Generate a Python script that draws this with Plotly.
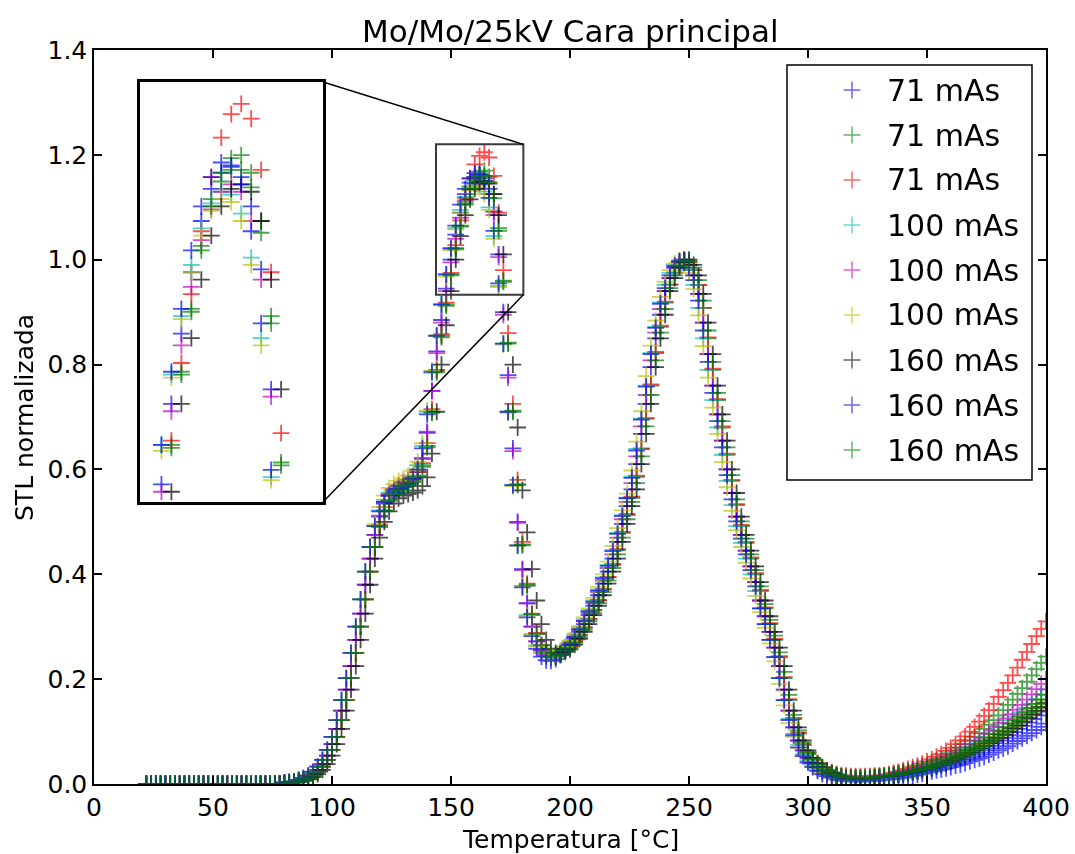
import plotly.graph_objects as go

# Reading temperatures (°C): one reading every 2 °C
TEMPERATURA = list(range(22, 401, 2))

LABELS = ["71 mAs", "71 mAs", "71 mAs",
          "100 mAs", "100 mAs", "100 mAs",
          "160 mAs", "160 mAs", "160 mAs"]
COLORS = ["#0000ff", "#008000", "#ff0000",
          "#00bfbf", "#bf00bf", "#bfbf00",
          "#000000", "#0000ff", "#008000"]

# Normalized STL signal of each irradiation (second peak = 1)
stl_71_a = [
    0, 0, 0, 0, 0, 0, 0, 0, 0, 0,
    0, 0, 0, 0, 0, 0, 0, 0, 0, 0,
    0, 0, 0, 0, 0, 0, 0, 0, 0,
    .002, .003, .004, .006, .009, .013, .019, .027, .038, .054,
    .076, .105, .14, .18, .225, .275, .325, .38, .43, .475,
    .51, .535, .55, .56, .565, .57, .575, .582, .595, .62,
    .67, .75, .825, .885, .945, 1.0, 1.048, 1.09, 1.125, 1.147,
    1.158, 1.162, 1.155, 1.135, 1.092, 1.01, .9, .78, .64, .5,
    .41, .345, .3, .272, .255, .246, .242, .244, .25, .257,
    .266, .277, .29, .305, .322, .34, .36, .382, .405, .43,
    .462, .496, .53, .562, .61, .668, .725, .795, .85, .895,
    .94, .965, .985, .995, 1.0, .99, .97, .935, .88, .82,
    .76, .705, .655, .6, .555, .51, .475, .445, .415, .385,
    .35, .32, .29, .26, .225, .18, .14, .108, .083, .064,
    .05, .04, .032, .026, .021, .017, .014, .012, .011, .01,
    .009, .009, .01, .011, .012, .013, .014, .015, .016, .018,
    .019, .021, .022, .024, .026, .028, .03, .033, .036, .039,
    .042, .045, .048, .052, .056, .06, .064, .068, .073, .078,
    .083, .088, .093, .099, .105, .111, .117, .124, .131, .138, .145,
]
stl_71_b = [
    0, 0, 0, 0, 0, 0, 0, 0, 0, 0,
    0, 0, 0, 0, 0, 0, 0, 0, 0, 0,
    0, 0, 0, 0, 0, 0, 0, 0, 0,
    .001, .002, .003, .005, .008, .011, .016, .023, .033, .046,
    .065, .09, .122, .16, .202, .25, .3, .352, .405, .452,
    .492, .522, .542, .555, .562, .568, .572, .578, .588, .608,
    .645, .71, .788, .855, .915, .972, 1.022, 1.065, 1.108, 1.14,
    1.158, 1.168, 1.17, 1.158, 1.125, 1.06, .96, .84, .71, .57,
    .455, .378, .322, .286, .264, .25, .244, .243, .247, .254,
    .262, .272, .284, .298, .314, .331, .35, .371, .394, .418,
    .446, .479, .513, .546, .586, .639, .697, .76, .822, .872,
    .918, .952, .975, .99, .998, .995, .98, .952, .908, .85,
    .79, .732, .68, .628, .578, .532, .492, .46, .43, .4,
    .368, .335, .305, .275, .242, .202, .16, .124, .096, .074,
    .057, .045, .036, .029, .024, .019, .016, .014, .013, .012,
    .012, .012, .012, .013, .014, .015, .016, .017, .019, .021,
    .023, .025, .028, .031, .034, .037, .041, .045, .049, .054,
    .059, .064, .07, .076, .083, .09, .097, .105, .113, .122,
    .131, .141, .151, .161, .172, .183, .195, .207, .219, .231, .243,
]
stl_71_c = [
    0, 0, 0, 0, 0, 0, 0, 0, 0, 0,
    0, 0, 0, 0, 0, 0, 0, 0, 0, 0,
    0, 0, 0, 0, 0, 0, 0, 0, 0,
    .001, .002, .003, .005, .008, .011, .016, .023, .033, .046,
    .065, .09, .122, .16, .202, .25, .3, .352, .405, .452,
    .495, .528, .55, .562, .57, .576, .58, .585, .595, .612,
    .65, .715, .79, .858, .918, .975, 1.028, 1.075, 1.118, 1.155,
    1.182, 1.198, 1.205, 1.195, 1.16, 1.09, .98, .86, .725, .58,
    .462, .382, .325, .288, .265, .251, .245, .244, .248, .255,
    .263, .273, .285, .299, .315, .332, .351, .372, .395, .42,
    .448, .481, .515, .548, .588, .64, .698, .762, .824, .874,
    .92, .953, .976, .991, .999, .995, .98, .952, .908, .852,
    .792, .734, .682, .63, .58, .534, .494, .462, .432, .402,
    .37, .337, .307, .277, .244, .204, .162, .126, .098, .076,
    .059, .047, .038, .031, .026, .022, .019, .017, .016, .015,
    .015, .015, .015, .015, .016, .016, .017, .019, .021, .023,
    .026, .029, .032, .035, .039, .043, .047, .052, .057, .063,
    .069, .076, .083, .091, .1, .109, .119, .13, .141, .153,
    .166, .179, .193, .207, .222, .237, .252, .267, .282, .296, .31,
]
stl_100_a = [
    0, 0, 0, 0, 0, 0, 0, 0, 0, 0,
    0, 0, 0, 0, 0, 0, 0, 0, 0, 0,
    0, 0, 0, 0, 0, 0, 0, 0, 0,
    .003, .004, .005, .008, .011, .016, .023, .033, .046, .065,
    .09, .122, .16, .202, .25, .3, .352, .405, .452, .492,
    .522, .542, .555, .562, .568, .572, .578, .588, .608, .645,
    .71, .788, .855, .915, .972, 1.02, 1.06, 1.095, 1.12, 1.137,
    1.145, 1.143, 1.13, 1.1, 1.045, .95, .84, .71, .57, .455,
    .378, .322, .286, .264, .25, .244, .243, .247, .254, .262,
    .272, .284, .298, .314, .331, .35, .371, .394, .418, .446,
    .479, .513, .546, .586, .639, .697, .76, .822, .872, .918,
    .952, .975, .99, .998, .995, .98, .952, .908, .85, .79,
    .732, .68, .628, .578, .532, .492, .46, .43, .4, .368,
    .335, .305, .275, .242, .202, .16, .124, .096, .074, .057,
    .045, .036, .029, .024, .019, .016, .013, .012, .01, .01,
    .01, .01, .011, .012, .013, .014, .015, .016, .017, .019,
    .02, .022, .024, .026, .029, .032, .035, .038, .041, .045,
    .049, .053, .057, .062, .067, .072, .077, .083, .089, .095,
    .101, .108, .115, .122, .129, .137, .145, .153, .162, .171, .18,
]
stl_100_b = [
    0, 0, 0, 0, 0, 0, 0, 0, 0, 0,
    0, 0, 0, 0, 0, 0, 0, 0, 0, 0,
    0, 0, 0, 0, 0, 0, 0, 0, 0,
    .002, .003, .004, .006, .009, .013, .019, .027, .038, .054,
    .076, .105, .14, .18, .225, .275, .325, .38, .43, .475,
    .512, .538, .553, .563, .568, .573, .578, .585, .598, .622,
    .672, .75, .822, .88, .94, .995, 1.04, 1.08, 1.112, 1.133,
    1.145, 1.15, 1.145, 1.125, 1.085, 1.005, .895, .775, .635, .498,
    .408, .344, .3, .272, .255, .246, .242, .244, .25, .257,
    .269, .28, .294, .31, .326, .345, .366, .388, .412, .438,
    .47, .505, .538, .574, .625, .682, .742, .808, .861, .906,
    .94, .965, .985, .995, 1.0, .99, .97, .935, .88, .82,
    .76, .705, .655, .6, .555, .51, .475, .445, .415, .385,
    .35, .32, .29, .26, .225, .18, .14, .108, .083, .064,
    .05, .04, .032, .026, .021, .017, .014, .012, .011, .01,
    .01, .01, .011, .012, .013, .014, .015, .016, .018, .02,
    .022, .024, .026, .028, .03, .033, .036, .039, .043, .047,
    .051, .055, .06, .065, .07, .076, .082, .088, .095, .102,
    .109, .117, .125, .133, .142, .151, .161, .171, .181, .191, .2,
]
stl_100_c = [
    0, 0, 0, 0, 0, 0, 0, 0, 0, 0,
    0, 0, 0, 0, 0, 0, 0, 0, 0, 0,
    0, 0, 0, 0, 0, 0, 0, 0, 0,
    .003, .004, .005, .008, .011, .016, .023, .033, .046, .065,
    .09, .122, .16, .202, .25, .3, .352, .405, .452, .495,
    .528, .55, .565, .572, .578, .582, .588, .598, .615, .65,
    .712, .788, .855, .913, .968, 1.018, 1.058, 1.09, 1.115, 1.132,
    1.14, 1.138, 1.125, 1.095, 1.04, .948, .838, .708, .568, .454,
    .377, .321, .285, .263, .25, .244, .243, .247, .254, .262,
    .274, .287, .301, .318, .335, .355, .376, .4, .424, .454,
    .488, .522, .554, .598, .653, .711, .778, .836, .884, .929,
    .958, .98, .993, .999, .992, .975, .944, .894, .835, .775,
    .718, .668, .614, .566, .521, .484, .452, .422, .392, .359,
    .328, .298, .268, .234, .191, .15, .116, .09, .069, .054,
    .043, .034, .028, .022, .018, .015, .012, .011, .01, .01,
    .01, .01, .011, .012, .013, .014, .015, .016, .017, .019,
    .02, .022, .023, .025, .028, .03, .033, .036, .039, .042,
    .045, .049, .053, .057, .061, .065, .07, .075, .08, .085,
    .091, .097, .103, .109, .116, .123, .13, .137, .144, .152, .16,
]
stl_160_a = [
    0, 0, 0, 0, 0, 0, 0, 0, 0, 0,
    0, 0, 0, 0, 0, 0, 0, 0, 0, 0,
    0, 0, 0, 0, 0, 0, 0, 0, 0,
    0, .002, .003, .004, .006, .009, .013, .019, .027, .038,
    .054, .076, .105, .14, .18, .225, .275, .325, .38, .43,
    .47, .5, .52, .535, .545, .55, .553, .556, .56, .568,
    .585, .63, .71, .8, .875, .94, 1.0, 1.045, 1.085, 1.115,
    1.135, 1.147, 1.15, 1.145, 1.125, 1.085, 1.01, .9, .8, .68,
    .56, .48, .41, .35, .305, .275, .258, .25, .248, .252,
    .257, .266, .277, .29, .305, .322, .34, .36, .382, .405,
    .43, .462, .496, .53, .562, .61, .668, .725, .795, .85,
    .895, .94, .965, .985, .995, 1.0, .99, .97, .935, .88,
    .82, .76, .705, .655, .6, .555, .51, .475, .445, .415,
    .385, .35, .32, .29, .26, .225, .18, .14, .108, .083,
    .064, .05, .04, .032, .026, .021, .017, .014, .012, .011,
    .01, .01, .01, .011, .012, .013, .014, .015, .016, .018,
    .02, .021, .023, .025, .028, .03, .032, .035, .038, .041,
    .044, .048, .052, .056, .06, .064, .068, .073, .078, .083,
    .088, .094, .1, .106, .112, .119, .126, .133, .14, .147, .155,
]
stl_160_b = [
    0, 0, 0, 0, 0, 0, 0, 0, 0, 0,
    0, 0, 0, 0, 0, 0, 0, 0, 0, 0,
    0, 0, 0, 0, 0, 0, 0, 0, 0,
    .003, .004, .005, .008, .011, .016, .023, .033, .046, .065,
    .09, .122, .16, .202, .25, .3, .352, .405, .452, .492,
    .52, .538, .55, .557, .563, .567, .572, .582, .6, .64,
    .705, .785, .855, .915, .972, 1.022, 1.065, 1.105, 1.135, 1.155,
    1.165, 1.163, 1.15, 1.118, 1.055, .955, .84, .71, .57, .455,
    .375, .318, .282, .258, .243, .236, .235, .238, .246, .255,
    .266, .28, .295, .311, .329, .348, .369, .392, .416, .444,
    .477, .511, .545, .584, .636, .695, .758, .82, .87, .916,
    .946, .97, .988, .997, .998, .985, .961, .922, .865, .805,
    .746, .692, .642, .589, .543, .501, .468, .438, .408, .377,
    .335, .305, .275, .242, .202, .16, .122, .093, .07, .053,
    .041, .032, .025, .019, .015, .012, .009, .007, .006, .005,
    .005, .005, .005, .006, .006, .007, .008, .009, .01, .011,
    .012, .014, .016, .018, .02, .022, .024, .026, .028, .03,
    .032, .035, .037, .04, .043, .046, .049, .052, .056, .06,
    .064, .068, .072, .077, .082, .087, .092, .097, .103, .109, .115,
]
stl_160_c = [
    0, 0, 0, 0, 0, 0, 0, 0, 0, 0,
    0, 0, 0, 0, 0, 0, 0, 0, 0, 0,
    0, 0, 0, 0, 0, 0, 0, 0, 0,
    .001, .002, .003, .005, .008, .011, .016, .023, .033, .046,
    .065, .09, .122, .16, .202, .25, .3, .352, .405, .452,
    .49, .52, .54, .553, .56, .566, .57, .576, .586, .605,
    .642, .708, .785, .852, .912, .97, 1.02, 1.063, 1.105, 1.135,
    1.152, 1.16, 1.16, 1.148, 1.117, 1.055, .958, .842, .712, .572,
    .457, .38, .324, .287, .265, .251, .245, .244, .248, .255,
    .26, .269, .28, .294, .31, .326, .345, .366, .388, .412,
    .438, .47, .505, .538, .574, .625, .682, .742, .808, .861,
    .906, .946, .97, .988, .997, .998, .985, .961, .922, .865,
    .805, .746, .692, .642, .589, .543, .501, .468, .438, .408,
    .377, .343, .313, .283, .251, .214, .17, .132, .102, .079,
    .061, .048, .038, .031, .025, .02, .017, .014, .013, .012,
    .011, .011, .011, .012, .013, .014, .015, .016, .017, .019,
    .021, .022, .024, .026, .028, .03, .033, .036, .039, .043,
    .047, .051, .055, .059, .063, .068, .073, .078, .083, .089,
    .095, .101, .108, .115, .122, .129, .137, .145, .153, .161, .17,
]

SERIES = [stl_71_a, stl_71_b, stl_71_c,
          stl_100_a, stl_100_b, stl_100_c,
          stl_160_a, stl_160_b, stl_160_c]

for serie in SERIES:
    assert len(serie) == len(TEMPERATURA), len(serie)

X_TICKS = [0, 50, 100, 150, 200, 250, 300, 350, 400]
Y_TICKS = [0.0, 0.2, 0.4, 0.6, 0.8, 1.0, 1.2, 1.4]
X_RANGE = [0, 400]
Y_RANGE = [0, 1.4]

# Region of the first peak shown enlarged in the inset
ZOOM_X = [143.7, 180.4]
ZOOM_Y = [0.933, 1.22]

FONT = "DejaVu Sans"
W, H = 1075, 854
M_L, M_R, M_T, M_B = 94, 29, 50, 70
PLOT_W = W - M_L - M_R
PLOT_H = H - M_T - M_B


def px_x(px):
    return (px - M_L) / PLOT_W


def px_y(py):
    return (M_T + PLOT_H - py) / PLOT_H


INSET_X = [px_x(140), px_x(323)]
INSET_Y = [px_y(502), px_y(82)]

# Legend layout (pixels): key column, text column, first row, row pitch
LEG_KEY_X, LEG_TEXT_X, LEG_ROW0, LEG_PITCH = 852, 885, 90, 45
LEG_BOX = (787, 65, 1032, 480)

MARKER_SIZE = 12
MARKER_LW = 1.8
OPACITY = 0.7

fig = go.Figure()

# main axes
for label, color, serie in zip(LABELS, COLORS, SERIES):
    fig.add_trace(go.Scatter(
        x=TEMPERATURA, y=serie, mode="markers", name=label,
        marker=dict(symbol="cross-thin", size=MARKER_SIZE, color=color,
                    line=dict(width=MARKER_LW, color=color)),
        opacity=OPACITY,
    ))
# inset (same data, enlarged)
for label, color, serie in zip(LABELS, COLORS, SERIES):
    fig.add_trace(go.Scatter(
        x=TEMPERATURA, y=serie, mode="markers", name=label,
        marker=dict(symbol="cross-thin", size=MARKER_SIZE, color=color,
                    line=dict(width=MARKER_LW, color=color)),
        opacity=OPACITY, xaxis="x2", yaxis="y2",
    ))
# legend keys on an invisible full-frame axis pair
for i, (label, color) in enumerate(zip(LABELS, COLORS)):
    fig.add_trace(go.Scatter(
        x=[px_x(LEG_KEY_X)], y=[px_y(LEG_ROW0 + i * LEG_PITCH)],
        mode="markers", name=label, hoverinfo="skip",
        marker=dict(symbol="cross-thin", size=12, color=color,
                    line=dict(width=1.5, color=color)),
        opacity=0.6, xaxis="x3", yaxis="y3", cliponaxis=False,
    ))

axis_common = dict(
    showgrid=False, zeroline=False, showline=True, linecolor="black",
    linewidth=1.5, mirror="ticks", ticks="inside", ticklen=8, tickwidth=1.5,
    tickcolor="black", tickfont=dict(family=FONT, size=25, color="black"),
    automargin=False,
)
inset_axis = dict(showticklabels=False, ticks="", showgrid=False,
                  zeroline=False, showline=True, mirror=True,
                  linecolor="black", linewidth=3, automargin=False)
hidden_axis = dict(domain=[0, 1], range=[0, 1], visible=False,
                   fixedrange=True, automargin=False)

# Corners of the inset expressed in main-axis data units
inset_right = X_RANGE[0] + INSET_X[1] * (X_RANGE[1] - X_RANGE[0])
inset_top = Y_RANGE[0] + INSET_Y[1] * (Y_RANGE[1] - Y_RANGE[0])
inset_bottom = Y_RANGE[0] + INSET_Y[0] * (Y_RANGE[1] - Y_RANGE[0])

shapes = [
    dict(type="rect", xref="x", yref="y", x0=ZOOM_X[0], x1=ZOOM_X[1],
         y0=ZOOM_Y[0], y1=ZOOM_Y[1], line=dict(color="#3a3a3a", width=2),
         layer="above"),
    dict(type="line", xref="x", yref="y", x0=ZOOM_X[1], y0=ZOOM_Y[1],
         x1=inset_right, y1=inset_top, line=dict(color="black", width=1.5),
         layer="above"),
    dict(type="line", xref="x", yref="y", x0=ZOOM_X[1], y0=ZOOM_Y[0],
         x1=inset_right, y1=inset_bottom, line=dict(color="black", width=1.5),
         layer="above"),
    dict(type="rect", xref="paper", yref="paper",
         x0=px_x(LEG_BOX[0]), x1=px_x(LEG_BOX[2]),
         y0=px_y(LEG_BOX[3]), y1=px_y(LEG_BOX[1]),
         line=dict(color="black", width=1.5), layer="above"),
]

annotations = [
    dict(text="Mo/Mo/25kV Cara principal", xref="paper", yref="paper",
         x=0.5, y=px_y(31), xanchor="center", yanchor="middle",
         showarrow=False, font=dict(family=FONT, size=31, color="black")),
    dict(text="Temperatura [°C]", xref="paper", yref="paper",
         x=0.5, y=px_y(839), xanchor="center", yanchor="middle",
         showarrow=False, font=dict(family=FONT, size=25, color="black")),
    dict(text="STL normalizada", xref="paper", yref="paper",
         x=px_x(24), y=px_y(418), xanchor="center", yanchor="middle",
         textangle=-90, showarrow=False,
         font=dict(family=FONT, size=25, color="black")),
]
for i, label in enumerate(LABELS):
    annotations.append(dict(
        text=label, xref="paper", yref="paper",
        x=px_x(LEG_TEXT_X), y=px_y(LEG_ROW0 + i * LEG_PITCH),
        xanchor="left", yanchor="middle", showarrow=False,
        font=dict(family=FONT, size=30, color="black"),
    ))

fig.update_layout(
    width=W, height=H, autosize=False,
    margin=dict(l=M_L, r=M_R, t=M_T, b=M_B, pad=0, autoexpand=False),
    paper_bgcolor="white", plot_bgcolor="rgba(0,0,0,0)",
    xaxis=dict(range=X_RANGE, tickvals=X_TICKS, domain=[0, 1], **axis_common),
    yaxis=dict(range=Y_RANGE, tickvals=Y_TICKS, tickformat=".1f",
               domain=[0, 1], **axis_common),
    xaxis2=dict(domain=INSET_X, anchor="y2", range=ZOOM_X, **inset_axis),
    yaxis2=dict(domain=INSET_Y, anchor="x2", range=ZOOM_Y, **inset_axis),
    xaxis3=dict(anchor="y3", **hidden_axis),
    yaxis3=dict(anchor="x3", **hidden_axis),
    showlegend=False,
    shapes=shapes,
    annotations=annotations,
)

fig.write_html("out.html")
